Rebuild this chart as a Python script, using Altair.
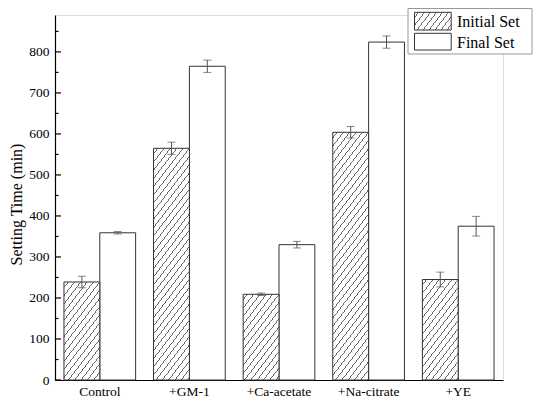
import altair as alt
import pandas as pd

# ---- data ----
categories = ["Control", "+GM-1", "+Ca-acetate", "+Na-citrate", "+YE"]
initial_set = [239, 565, 209, 604, 245]
initial_err = [14, 15, 3, 14, 18]
final_set = [359, 765, 330, 824, 375]
final_err = [3, 15, 8, 15, 24]
series_names = ["Initial Set", "Final Set"]
major_ticks = [0, 100, 200, 300, 400, 500, 600, 700, 800]
minor_ticks = [50, 150, 250, 350, 450, 550, 650, 750, 850]

Y_MAX = 890
W, H = 448, 365
FONT = "Liberation Serif"

rows = []
for c, v, e in zip(categories, initial_set, initial_err):
    rows.append({"cat": c, "series": series_names[0], "value": v, "lo": v - e, "hi": v + e})
for c, v, e in zip(categories, final_set, final_err):
    rows.append({"cat": c, "series": series_names[1], "value": v, "lo": v - e, "hi": v + e})
df = pd.DataFrame(rows)

# band geometry (used only to shape the hatch gradient of each bar)
step = W / (len(categories) - 0.2 + 0.2)
bar_w = step * 0.8 / 2


def hatch(w, h, a=1.3, b=1.0, period_x=6.3, lw=1.0, dark="#666666", light="#ffffff"):
    L = a * w + b * h
    P = period_x * a
    lwc = lw * a
    stops = [{"offset": 0, "color": light}]
    c = P * 0.6
    while c < L:
        s0 = c / L
        s1 = min((c + lwc) / L, 1.0)
        stops.append({"offset": round(s0, 5), "color": light})
        stops.append({"offset": round(s0, 5), "color": dark})
        stops.append({"offset": round(s1, 5), "color": dark})
        stops.append({"offset": round(s1, 5), "color": light})
        c += P
    stops.append({"offset": 1, "color": light})
    dx, dy = a * w, b * h
    lam = L / (dx * dx + dy * dy)
    return {"gradient": "linear", "x1": 0, "y1": 0, "x2": dx * lam, "y2": dy * lam, "stops": stops}


x_enc = alt.X("cat:N", sort=categories,
              scale=alt.Scale(paddingInner=0.2, paddingOuter=0.1),
              axis=alt.Axis(title=None, ticks=False, labelAngle=0, labelPadding=4,
                            labelFontSize=13.5, labelColor="black", labelFont=FONT,
                            domainColor="black", domainWidth=1.2))
xo_enc = alt.XOffset("series:N", sort=series_names,
                     scale=alt.Scale(domain=series_names, paddingInner=0, paddingOuter=0))
y_scale = alt.Scale(domain=[0, Y_MAX], nice=False, zero=True)
y_enc = alt.Y("value:Q", scale=y_scale,
              axis=alt.Axis(title="Setting Time (min)", values=major_ticks, ticks=False,
                            grid=False, labelPadding=6, labelFontSize=13.5, labelColor="black",
                            labelFont=FONT, domainColor="black", domainWidth=1.2,
                            titleFontSize=16, titleFont=FONT, titleFontWeight="normal",
                            titleColor="black", titleX=-39, titleY=189, titleBaseline="middle"))

base = alt.Chart(df)

final_bars = base.transform_filter(alt.datum.series == series_names[1]).mark_bar(
    fill="white", stroke="#333333", strokeWidth=1
).encode(x=x_enc, xOffset=xo_enc, y=y_enc)

layers = [final_bars]
for c, v in zip(categories, initial_set):
    h = v / Y_MAX * H
    layers.append(
        base.transform_filter((alt.datum.series == series_names[0]) & (alt.datum.cat == c))
        .mark_bar(fill=hatch(bar_w, h), stroke="#333333", strokeWidth=1)
        .encode(x=x_enc, xOffset=xo_enc, y=y_enc)
    )

err_rules = base.mark_rule(color="#555555", strokeWidth=1).encode(
    x=x_enc, xOffset=xo_enc, y=alt.Y("lo:Q", scale=y_scale), y2="hi:Q")
err_top = base.mark_tick(color="#555555", size=8, thickness=1).encode(
    x=x_enc, xOffset=xo_enc, y=alt.Y("hi:Q", scale=y_scale))
err_bot = base.mark_tick(color="#555555", size=8, thickness=1).encode(
    x=x_enc, xOffset=xo_enc, y=alt.Y("lo:Q", scale=y_scale))
layers += [err_rules, err_top, err_bot]

# inward axis ticks
major_df = pd.DataFrame({"t": major_ticks})
minor_df = pd.DataFrame({"t": minor_ticks})
maj = alt.Chart(major_df).mark_rule(color="black", strokeWidth=1.2).encode(
    y=alt.Y("t:Q", scale=y_scale), x=alt.value(0), x2=alt.value(6))
mino = alt.Chart(minor_df).mark_rule(color="black", strokeWidth=1.2).encode(
    y=alt.Y("t:Q", scale=y_scale), x=alt.value(0), x2=alt.value(3.5))
layers += [maj, mino]

# legend (drawn manually so the hatch can be shown)
one = pd.DataFrame({"k": [0]})
leg_box = alt.Chart(one).mark_rect(fill="white", stroke="#999999", strokeWidth=1).encode(
    x=alt.value(353), x2=alt.value(477), y=alt.value(-6.5), y2=alt.value(39))
leg_sw1 = alt.Chart(one).mark_rect(fill=hatch(36.7, 17.7, period_x=6.0), stroke="#333333",
                                   strokeWidth=1).encode(
    x=alt.value(359.5), x2=alt.value(396.2), y=alt.value(-2.7), y2=alt.value(15))
leg_sw2 = alt.Chart(one).mark_rect(fill="white", stroke="#333333", strokeWidth=1).encode(
    x=alt.value(359.5), x2=alt.value(396.2), y=alt.value(18.3), y2=alt.value(35))
leg_t1 = alt.Chart(one).mark_text(align="left", baseline="middle", font=FONT, fontSize=16,
                                  color="black").encode(
    text=alt.value(series_names[0]), x=alt.value(402), y=alt.value(6.5))
leg_t2 = alt.Chart(one).mark_text(align="left", baseline="middle", font=FONT, fontSize=16,
                                  color="black").encode(
    text=alt.value(series_names[1]), x=alt.value(402), y=alt.value(27.5))
layers += [leg_box, leg_sw1, leg_sw2, leg_t1, leg_t2]

chart = alt.layer(*layers).properties(
    width=W, height=H,
    padding={"left": 47, "top": 7, "right": 39, "bottom": 21},
    autosize=alt.AutoSizeParams(type="none"),
).configure_view(stroke=None).configure(font=FONT, background="white")

chart.save("out.html", embed_options={"renderer": "svg", "actions": False})
